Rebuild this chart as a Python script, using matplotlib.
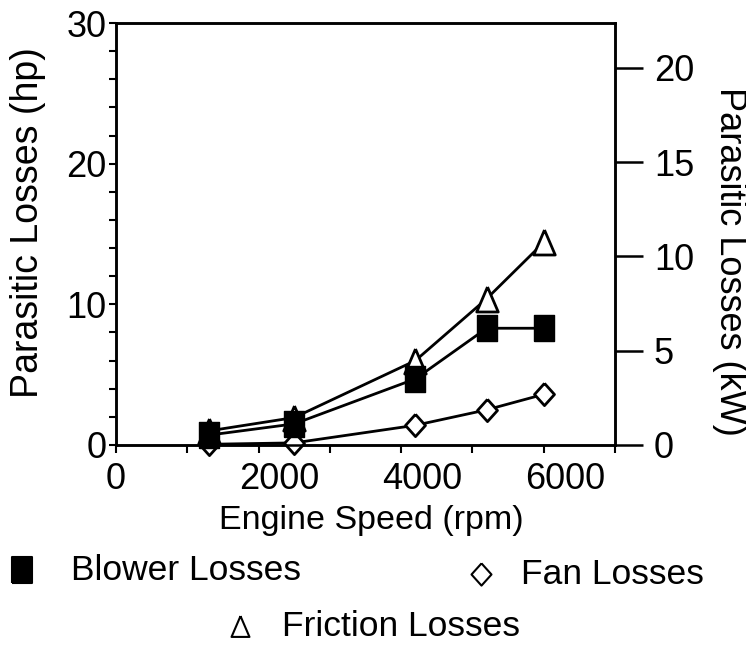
import matplotlib
matplotlib.use("Agg")
import matplotlib.pyplot as plt
from matplotlib.lines import Line2D
from matplotlib.transforms import ScaledTranslation
from matplotlib.ticker import MultipleLocator

plt.rcParams["font.family"] = ["Liberation Sans", "DejaVu Sans"]

# engine speed (rpm) and parasitic losses (hp)
rpm = [1300, 2500, 4200, 5200, 6000]
blower_hp = [0.7, 1.5, 4.7, 8.3, 8.3]
fan_hp = [0.05, 0.15, 1.4, 2.5, 3.6]
friction_hp = [1.0, 1.95, 6.0, 10.4, 14.4]

x_ticks = [0, 1000, 2000, 3000, 4000, 5000, 6000, 7000]
x_tick_labels = ["0", "", "2000", "", "4000", "", "6000", ""]
hp_ticks = [0, 10, 20, 30]
kw_ticks = [0, 5, 10, 15, 20]
HP_TO_KW = 0.7457

# marker shapes, a little taller than wide
box = [(-0.37, -0.5), (0.37, -0.5), (0.37, 0.5), (-0.37, 0.5), (-0.37, -0.5)]
tri = [(0, 0.5), (-0.43, -0.5), (0.43, -0.5), (0, 0.5)]
dia = [(0, 0.5), (0.45, 0), (0, -0.5), (-0.45, 0), (0, 0.5)]

fig = plt.figure(figsize=(7.46, 6.45), dpi=100)
ax = fig.add_axes([0.1555, 0.3101, 0.6689, 0.6542])

lw = 2
ax.plot(rpm, friction_hp, color="black", lw=lw, marker=tri, ms=18,
        mfc="white", mec="black", mew=2, clip_on=False, zorder=3)
ax.plot(rpm, fan_hp, color="black", lw=lw, marker=dia, ms=16,
        mfc="white", mec="black", mew=2, clip_on=False, zorder=4)
ax.plot(rpm, blower_hp, color="black", lw=lw, marker=box, ms=19,
        mfc="black", mec="black", mew=1, clip_on=False, zorder=5)

ax.set_xlim(0, 7000)
ax.set_ylim(0, 30)
ax.set_xticks(x_ticks)
ax.set_xticklabels(x_tick_labels)
ax.set_yticks(hp_ticks)
ax.yaxis.set_minor_locator(MultipleLocator(2))
ax.tick_params(axis="x", direction="out", length=6, width=1.5, pad=6,
               labelsize=26, top=False)
ax.tick_params(axis="y", which="both", direction="out", length=5, width=1.5,
               pad=2, labelsize=26, right=False)

# the 2000/4000/6000 labels sit a bit to the right of their ticks
shift = ScaledTranslation(0.21, 0, fig.dpi_scale_trans)
for lab in ax.get_xticklabels():
    if lab.get_text() not in ("", "0"):
        lab.set_transform(lab.get_transform() + shift)

for side in ax.spines.values():
    side.set_linewidth(1.8)

ax2 = ax.twinx()
ax2.set_ylim(0, 30 * HP_TO_KW)
ax2.set_yticks(kw_ticks)
ax2.tick_params(axis="y", direction="out", length=20, width=1.8, pad=8,
                labelsize=26)
for side in ax2.spines.values():
    side.set_linewidth(1.8)

ax.set_xlabel("Engine Speed (rpm)", fontsize=24.5, va="center")
ax.xaxis.set_label_coords(0.511, -0.178)
ax.set_ylabel("Parasitic Losses (hp)", fontsize=27, va="center")
ax.yaxis.set_label_coords(-0.176, 0.528)
ax2.set_ylabel("Parasitic Losses (kW)", fontsize=26, rotation=270,
               va="center")
ax2.yaxis.set_label_coords(1.23, 0.434)


def key(x_px, y_px, marker, ms, fill, text, text_x):
    fx, fy = x_px / 746, 1 - y_px / 645
    fig.add_artist(Line2D([fx], [fy], transform=fig.transFigure, ls="none",
                          marker=marker, ms=ms, mfc=fill, mec="black", mew=1.5))
    fig.text(text_x / 746, fy, text, fontsize=25.5, ha="left", va="center")


key(22, 570, box, 19, "black", "Blower Losses", 71)
key(481, 574, dia, 16, "white", "Fan Losses", 521)
key(240, 626, tri, 15, "white", "Friction Losses", 282)

fig.savefig("out.png", dpi=100)
